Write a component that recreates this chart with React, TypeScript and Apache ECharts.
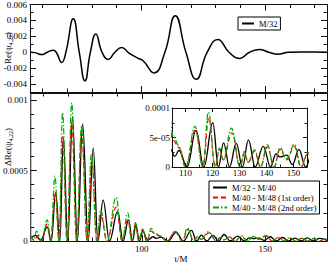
import React, { useEffect, useRef } from 'react';
import * as echarts from 'echarts';

const FONT = "'Liberation Serif', 'Times New Roman', serif";

// ---- top panel: Re(psi4,22) waveform (M/32) ----
const waveT = [55, 57, 59.7, 62, 64.4, 65.6, 67.8, 69.5, 72.5, 74.9, 77.2, 79.4, 81.6, 84.1, 86.6, 89.3, 92, 95, 98.3, 100.8, 105.1, 109.5, 113.7, 118, 122.2, 126.6, 130.9, 135.4, 139.7, 143.7, 147.7, 151.5, 155.1, 159.5, 165, 170, 175];
const waveV = [0, -0.00005, -0.0003, 0, 0.00025, 0, -0.0013, 0, 0.0042, 0, -0.0036, 0, 0.0023, 0, -0.0009, 0, 0.0006, -0.0001, -0.0007, -0.0011, -0.0026, 0, 0.0046, 0, -0.0034, 0, 0.0016, 0, -0.0008, 0, 0.00034, 0, -0.00025, 0, 0.00004, 0.00002, 0];

// ---- bottom panel: differences ----
const diffA: [number, number][] = [[55,0.00002],[57,0.00004],[59,0.000005],[61.7,0.0001],[63.3,0],[65.1,0.00034],[66.8,0],[68.2,0.00073],[70,0],[71.9,0.00088],[73.9,0],[76,0.00083],[78.3,0],[80.3,0.00066],[82.2,0],[84.3,0.00029],[86.9,0],[90.2,0.00021],[92.4,0],[94.6,0.00015],[96.2,0],[97.6,0.00011],[99,0],[100.4,0.00007],[102.3,0.000005],[104.5,0.00003],[106,0.000018],[107.6,0.000028],[110.6,0],[113.9,0.000062],[116.8,0],[120.1,0.000075],[122.2,0],[124.1,0.000041],[126.3,0],[128.8,0.00004],[131.1,0],[133.3,0.000046],[135.8,0],[138.8,0.000035],[141.5,0],[143.5,0.000022],[145,0.000017],[147.5,0.00002],[149.6,0.000004],[152,0.00003],[154.5,0],[157,0.000025],[159.5,0],[162,0.00002],[164.5,0],[167,0.000022],[169.5,0],[172,0.000018],[175,0.000005]];
const diffB: [number, number][] = [[55,0.00003],[56.5,0.000005],[58,0.00004],[59.5,0],[61.6,0.00012],[63.1,0],[64.9,0.00035],[66.5,0],[68,0.00074],[69.7,0],[71.6,0.00083],[73.6,0],[75.6,0.00077],[77.9,0],[79.8,0.00056],[81.8,0],[83.4,0.00018],[85.9,0],[89.6,0.00024],[92,0],[94.3,0.00015],[96,0],[97.4,0.00012],[98.8,0],[100.2,0.00008],[102,0],[103.8,0.00007],[105.5,0.000045],[107.5,0.000033],[110,0],[113.6,0.000063],[116.5,0],[118.6,0.000083],[121,0],[122.6,0.00003],[124,0.000012],[127.2,0.000058],[130.2,0],[131.8,0.000024],[133.2,0.000008],[135.6,0.000027],[137.8,0],[140.3,0.000034],[142.8,0],[145,0.00003],[147.5,0.000012],[150.3,0.000035],[152.8,0],[155.3,0.000023],[157.6,0],[160,0.00002],[162.4,0],[164.8,0.000018],[167.2,0],[169.6,0.000017],[172,0],[174.2,0.000013],[175,0.000009]];
const diffC: [number, number][] = [[55,0.00004],[56.3,0.000005],[57.3,0.00007],[59.3,0],[61.7,0.00015],[63.1,0],[64.8,0.00046],[66.4,0],[67.9,0.00091],[69.7,0],[71.6,0.00098],[73.6,0],[75.6,0.00082],[77.8,0],[79.6,0.00062],[81.7,0],[83.3,0.00022],[85.9,0],[89.6,0.00031],[92,0],[94.3,0.0002],[96,0],[97.4,0.00013],[98.8,0],[100.2,0.00009],[102,0],[103.8,0.00009],[105.5,0.000052],[107.5,0.000036],[110.1,0],[113.5,0.000069],[116.4,0],[118.5,0.000093],[121,0],[122.6,0.000032],[124,0.000012],[127,0.000066],[130.2,0],[131.8,0.000026],[133.2,0.000008],[135.6,0.000029],[137.8,0],[140.3,0.000038],[142.8,0],[145,0.000033],[147.5,0.000014],[150.3,0.000039],[152.8,0],[155.3,0.000025],[157.6,0],[160,0.000022],[162.4,0],[164.8,0.00002],[167.2,0],[169.6,0.000018],[172,0],[174.2,0.000015],[175,0.00001]];

const seriesNames = ['M/32 - M/40', 'M/40 - M/48 (1st order)', 'M/40 - M/48 (2nd order)'];
const waveName = 'M/32';

// ---- ticks ----
const mainXMajor = [100, 150];
const mainXLabels = ['100', '150'];
const mainXMinor = [60, 70, 80, 90, 110, 120, 130, 140, 160, 170];
const topYMajor = [-0.004, -0.002, 0, 0.002, 0.004, 0.006];
const topYLabels = ['-0.004', '-0.002', '0', '0.002', '0.004', '0.006'];
const topYMinor = [-0.005, -0.003, -0.001, 0.001, 0.003, 0.005];
const botYMajor = [0, 0.0005, 0.001];
const botYLabels = ['0', '0.0005', '0.001'];
const botYMinor = [0.0001, 0.0002, 0.0003, 0.0004, 0.0006, 0.0007, 0.0008, 0.0009];
const insXMajor = [110, 120, 130, 140, 150];
const insXLabels = ['110', '120', '130', '140', '150'];
const insXMinor = [105, 115, 125, 135, 145, 155];
const insYMajor = [0, 0.00005, 0.0001];
const insYLabels = ['0', '5e-05', '0.0001'];
const insYMinor = [0.000025, 0.000075];

const AX = '#111';

function fmt(vals: number[], labels: string[]) {
  return (v: number) => {
    for (let i = 0; i < vals.length; i++) {
      if (Math.abs(vals[i] - v) < 1e-12) return labels[i];
    }
    return '';
  };
}

function axisPair(
  dim: 'x' | 'y', grid: number, pos: string, min: number, max: number,
  majors: number[], minors: number[], labels: string[] | null,
  majLen: number, minLen: number, margin: number
) {
  const base: any = {
    type: 'value', gridIndex: grid, position: pos, min, max,
    splitLine: { show: false },
  };
  const major = {
    ...base,
    axisLine: { show: true, onZero: false, lineStyle: { color: AX, width: 1 } },
    axisTick: { show: true, inside: true, length: majLen, customValues: majors, lineStyle: { color: AX, width: 1 } },
    axisLabel: labels
      ? { show: true, customValues: majors, formatter: fmt(majors, labels), margin, fontSize: 9, fontFamily: FONT, color: '#000' }
      : { show: false },
  };
  const minor = {
    ...base,
    axisLine: { show: false, onZero: false },
    axisTick: { show: true, inside: true, length: minLen, customValues: minors, lineStyle: { color: AX, width: 1 } },
    axisLabel: { show: false },
  };
  return [major, minor];
}

export default function App() {
  const ref = useRef<HTMLDivElement>(null);
  useEffect(() => {
    if (!ref.current) return;
    const chart = echarts.init(ref.current, undefined, { renderer: 'svg' });

    const xAxis = [
      ...axisPair('x', 0, 'bottom', 55, 175, mainXMajor, mainXMinor, null, 6, 3.5, 3),
      ...axisPair('x', 0, 'top', 55, 175, mainXMajor, mainXMinor, null, 6, 3.5, 3),
      ...axisPair('x', 1, 'bottom', 55, 175, mainXMajor, mainXMinor, mainXLabels, 6, 3.5, 3),
      ...axisPair('x', 1, 'top', 55, 175, mainXMajor, mainXMinor, null, 6, 3.5, 3),
      ...axisPair('x', 2, 'bottom', 105, 155, insXMajor, insXMinor, insXLabels, 4, 2.5, 1),
      ...axisPair('x', 2, 'top', 105, 155, insXMajor, insXMinor, null, 4, 2.5, 1),
    ];
    const yAxis = [
      ...axisPair('y', 0, 'left', -0.005, 0.006, topYMajor, topYMinor, topYLabels, 6, 3.5, 3),
      ...axisPair('y', 0, 'right', -0.005, 0.006, topYMajor, topYMinor, null, 6, 3.5, 3),
      ...axisPair('y', 1, 'left', 0, 0.00105, botYMajor, botYMinor, botYLabels, 6, 3.5, 3),
      ...axisPair('y', 1, 'right', 0, 0.00105, botYMajor, botYMinor, null, 6, 3.5, 3),
      ...axisPair('y', 2, 'left', 0, 0.0001, insYMajor, insYMinor, insYLabels, 4, 2.5, 2),
      ...axisPair('y', 2, 'right', 0, 0.0001, insYMajor, insYMinor, null, 4, 2.5, 2),
    ];

    const colors = ['#000000', '#ff0000', '#00a800'];
    const types: any[] = ['solid', [5, 3], [6, 2, 1.5, 2]];
    const diffs = [diffA, diffB, diffC];

    const series: any[] = [
      {
        name: waveName, type: 'line', xAxisIndex: 0, yAxisIndex: 0,
        data: waveT.map((t, i) => [t, waveV[i]]),
        smooth: 0.5, symbol: 'none',
        lineStyle: { color: '#000', width: 1.5 }, itemStyle: { color: '#000' },
      },
    ];
    diffs.forEach((d, i) => {
      series.push({
        name: seriesNames[i], type: 'line', xAxisIndex: 4, yAxisIndex: 4,
        data: d, smooth: 0.4, smoothMonotone: 'x', symbol: 'none',
        lineStyle: { color: colors[i], width: i === 0 ? 1.3 : 1.2, type: types[i] },
        itemStyle: { color: colors[i] },
      });
    });
    diffs.forEach((d, i) => {
      series.push({
        name: seriesNames[i], type: 'line', xAxisIndex: 8, yAxisIndex: 8,
        data: d, smooth: 0.4, smoothMonotone: 'x', symbol: 'none',
        lineStyle: { color: colors[i], width: i === 0 ? 1.3 : 1.2, type: types[i] },
        itemStyle: { color: colors[i] },
      });
    });

    const richLabel = (pre: string) => ({
      text: `{a|${pre}(ψ}{b|4,22}{a|)}`,
      rich: {
        a: { fontSize: 9, fontFamily: FONT, fill: '#000', lineHeight: 12 },
        b: { fontSize: 6, fontFamily: FONT, fill: '#000', verticalAlign: 'bottom', lineHeight: 8, padding: [4, 0, 0, 0] },
      },
      align: 'center', verticalAlign: 'middle',
    });

    const legendCommon: any = {
      orient: 'vertical', padding: [2, 3, 2, 3], itemHeight: 8,
      borderColor: '#000', borderWidth: 1, backgroundColor: '#fff', borderRadius: 0,
      textStyle: { fontSize: 8.5, fontFamily: FONT, color: '#000' },
      itemStyle: { opacity: 0 },
      selectedMode: false,
    };

    chart.setOption({
      animation: false,
      backgroundColor: '#fff',
      grid: [
        { left: 30, top: 4, width: 297, height: 88, show: false },
        { left: 30, top: 93, width: 297, height: 148, show: false },
        { left: 172, top: 108, width: 135, height: 59, show: true, backgroundColor: '#fff', borderWidth: 0 },
      ],
      xAxis, yAxis, series,
      legend: [
        { ...legendCommon, data: [waveName], left: 238, top: 17, itemWidth: 12 },
        { ...legendCommon, data: seriesNames, left: 209, top: 181, itemGap: 1, itemWidth: 14 },
      ],
      graphic: [
        { type: 'text', x: 8, y: 48, rotation: Math.PI / 2, style: richLabel('Re') },
        { type: 'text', x: 8, y: 147, rotation: Math.PI / 2, style: richLabel('ΔRe') },
        { type: 'text', x: 181, y: 259, style: { text: 't/M', fontSize: 9, fontFamily: FONT, fill: '#000', align: 'center', verticalAlign: 'middle' } },
      ],
    });
    return () => chart.dispose();
  }, []);
  return <div ref={ref} style={{ position: 'fixed', left: 0, top: 0, width: 328, height: 263, background: '#fff' }} />;
}
